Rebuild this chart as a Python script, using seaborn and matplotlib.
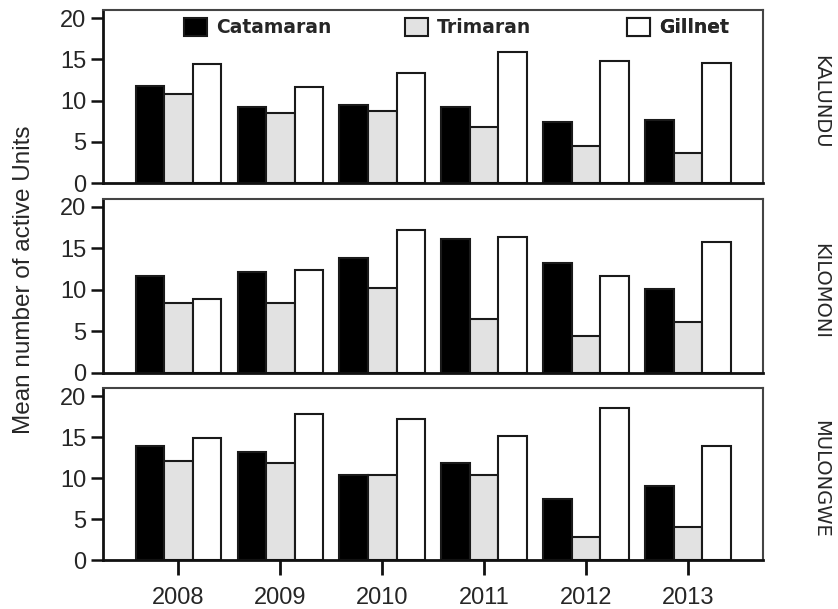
import matplotlib
matplotlib.use("Agg")
import matplotlib.pyplot as plt
from matplotlib.patches import Patch
import pandas as pd
import seaborn as sns

years = ["2008", "2009", "2010", "2011", "2012", "2013"]
gears = ["Catamaran", "Trimaran", "Gillnet"]
sites = ["KALUNDU", "KILOMONI", "MULONGWE"]

kalundu_catamaran = [11.8, 9.2, 9.5, 9.2, 7.4, 7.7]
kalundu_trimaran = [10.8, 8.5, 8.8, 6.8, 4.5, 3.7]
kalundu_gillnet = [14.4, 11.6, 13.3, 15.9, 14.8, 14.6]

kilomoni_catamaran = [11.7, 12.1, 13.8, 16.1, 13.2, 10.1]
kilomoni_trimaran = [8.4, 8.4, 10.2, 6.5, 4.4, 6.1]
kilomoni_gillnet = [8.9, 12.4, 17.2, 16.4, 11.7, 15.7]

mulongwe_catamaran = [13.9, 13.2, 10.4, 11.8, 7.5, 9.0]
mulongwe_trimaran = [12.1, 11.8, 10.4, 10.4, 2.8, 4.1]
mulongwe_gillnet = [14.9, 17.8, 17.2, 15.2, 18.6, 13.9]

site_values = {
    "KALUNDU": [kalundu_catamaran, kalundu_trimaran, kalundu_gillnet],
    "KILOMONI": [kilomoni_catamaran, kilomoni_trimaran, kilomoni_gillnet],
    "MULONGWE": [mulongwe_catamaran, mulongwe_trimaran, mulongwe_gillnet],
}

rows = []
for site in sites:
    for gear, vals in zip(gears, site_values[site]):
        for yr, v in zip(years, vals):
            rows.append({"site": site, "gear": gear, "year": yr, "units": v})
df = pd.DataFrame(rows)

sns.set_style("ticks")
plt.rcParams["font.family"] = ["Liberation Sans", "DejaVu Sans"]

palette = {"Catamaran": "#000000", "Trimaran": "#e2e2e2", "Gillnet": "#ffffff"}

fig = plt.figure(figsize=(8.38, 6.09), dpi=100)
panel_boxes = [
    [0.123, 0.699, 0.788, 0.285],
    [0.123, 0.388, 0.788, 0.286],
    [0.123, 0.080, 0.788, 0.283],
]

axes = []
for i, site in enumerate(sites):
    ax = fig.add_axes(panel_boxes[i])
    sub = df[df["site"] == site]
    sns.barplot(data=sub, x="year", y="units", hue="gear", order=years,
                hue_order=gears, palette=palette, width=0.84, gap=0,
                edgecolor="#1a1a1a", linewidth=1.5, legend=False, ax=ax)
    ax.set_xlim(-0.74, 5.74)
    ax.set_ylim(0, 21)
    ax.set_yticks([0, 5, 10, 15, 20])
    ax.set_ylabel("")
    ax.set_xlabel("")
    for side in ["left", "bottom"]:
        ax.spines[side].set_linewidth(2.0)
        ax.spines[side].set_color("#111111")
    for side in ["top", "right"]:
        ax.spines[side].set_visible(True)
        ax.spines[side].set_linewidth(1.5)
        ax.spines[side].set_color("#444444")
    ax.tick_params(axis="y", length=9, width=1.8, pad=3, labelsize=17,
                   color="#111111")
    if i < 2:
        ax.tick_params(axis="x", length=0, labelbottom=False)
    else:
        ax.tick_params(axis="x", length=11, width=2, pad=8, labelsize=17,
                       color="#111111")
    ax.text(1.086, 0.47, site, rotation=-90, transform=ax.transAxes,
            ha="center", va="center", fontsize=14, family="DejaVu Sans")
    axes.append(ax)

# legend entries spread across the top panel
top = axes[0]
for gear, xpos in zip(gears, [0.1227, 0.4576, 0.794]):
    handle = Patch(facecolor=palette[gear], edgecolor="#1a1a1a", linewidth=1.5)
    leg = top.legend(handles=[handle], labels=[gear], loc="center left",
                     bbox_to_anchor=(xpos, 0.896), frameon=False,
                     borderpad=0, borderaxespad=0, handlelength=1.2,
                     handleheight=1.1, handletextpad=0.5,
                     prop={"family": "DejaVu Sans", "size": 13.5, "weight": "bold"})
    top.add_artist(leg)

fig.text(0.029, 0.54, "Mean number of active Units", rotation=90,
         ha="center", va="center", fontsize=17.5)

fig.savefig("out.png", dpi=100)
